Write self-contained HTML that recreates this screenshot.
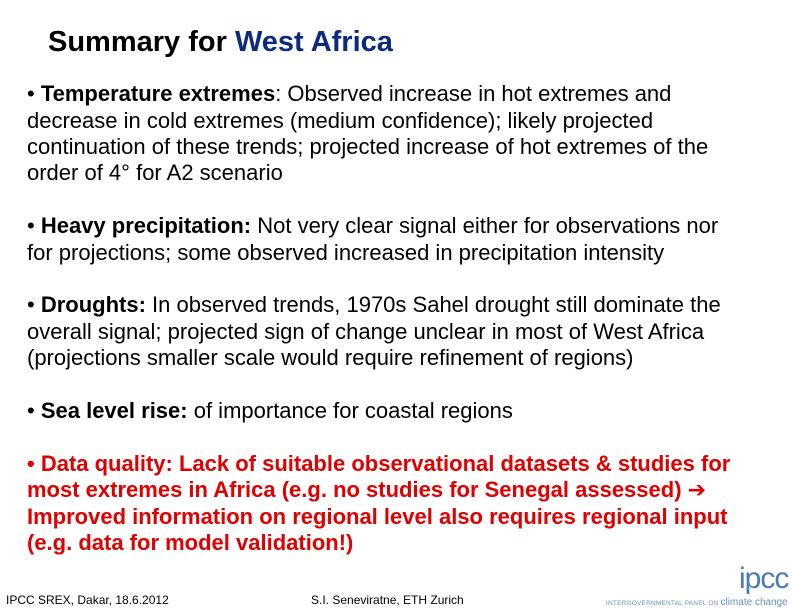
<!DOCTYPE html>
<html><head><meta charset="utf-8"><style>
body{margin:0;width:792px;height:612px;background:#fff;position:relative;overflow:hidden;font-family:"Liberation Sans",Arial,sans-serif}
.l{position:absolute;left:27px;font-size:22px;white-space:nowrap;color:#000;line-height:24px}
.r{color:#e00000;font-weight:bold}
</style></head><body>
<div style="position:absolute;left:48px;top:25px;font-size:29px;font-weight:bold;white-space:nowrap;line-height:34px">Summary for <span style="color:#0b2a80">West Africa</span></div>
<div>
<div class="l" style="top:82px">• <b>Temperature extremes</b>: Observed increase in hot extremes and</div>
<div class="l" style="top:109px">decrease in cold extremes (medium confidence); likely projected</div>
<div class="l" style="top:135px">continuation of these trends; projected increase of hot extremes of the</div>
<div class="l" style="top:161px">order of 4° for A2 scenario</div>
</div>
<div>
<div class="l" style="top:214px">• <b>Heavy precipitation:</b> Not very clear signal either for observations nor</div>
<div class="l" style="top:241px">for projections; some observed increased in precipitation intensity</div>
</div>
<div>
<div class="l" style="top:293px">• <b>Droughts:</b> In observed trends, 1970s Sahel drought still dominate the</div>
<div class="l" style="top:320px">overall signal; projected sign of change unclear in most of West Africa</div>
<div class="l" style="top:346px">(projections smaller scale would require refinement of regions)</div>
</div>
<div>
<div class="l" style="top:399px">• <b>Sea level rise:</b> of importance for coastal regions</div>
</div>
<div>
<div class="l r" style="top:452px">• Data quality: Lack of suitable observational datasets &amp; studies for</div>
<div class="l r" style="top:478px">most extremes in Africa (e.g. no studies for Senegal assessed) <span style="font-family:'DejaVu Sans'">➔</span></div>
<div class="l r" style="top:505px">Improved information on regional level also requires regional input</div>
<div class="l r" style="top:531px">(e.g. data for model validation!)</div>
</div>
<div style="position:absolute;left:6px;top:593px;font-size:12px;white-space:nowrap">IPCC SREX, Dakar, 18.6.2012</div>
<div style="position:absolute;left:311px;top:593px;font-size:12px;white-space:nowrap">S.I. Seneviratne, ETH Zurich</div>
<div style="position:absolute;left:739px;top:564px;font-size:30px;color:#4a7ab8;line-height:30px;letter-spacing:-1px">ipcc</div>
<div style="position:absolute;left:606px;top:597px;font-size:6.5px;color:#6a8fc0;white-space:nowrap;letter-spacing:0.2px">INTERGOVERNMENTAL PANEL ON <span style="font-size:10px;letter-spacing:0">climate change</span></div>
</body></html>
